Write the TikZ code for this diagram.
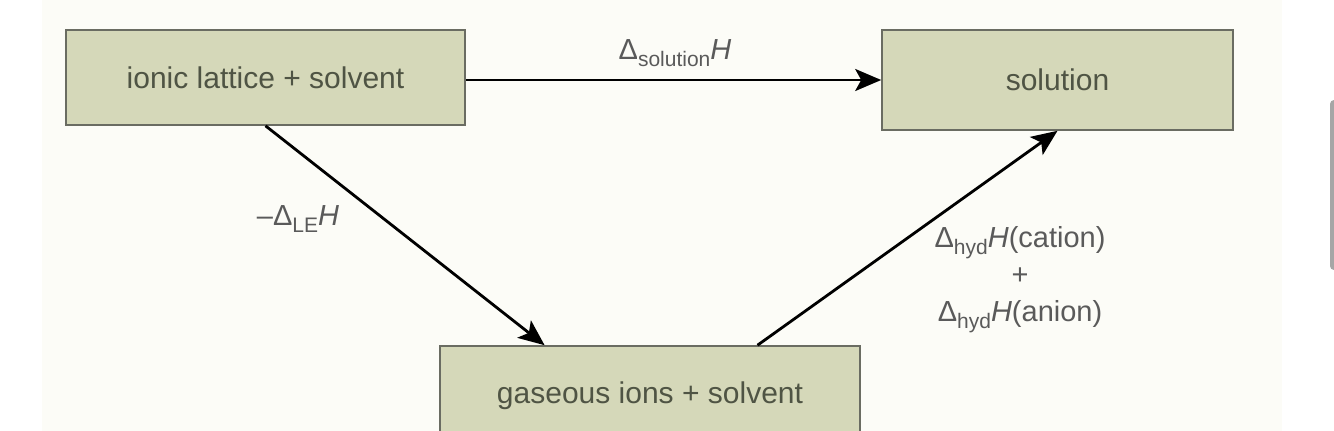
\documentclass[tikz,border=0pt]{standalone}
\usepackage{fontspec}
\setmainfont{Liberation Sans}
\usetikzlibrary{arrows.meta,calc}
\definecolor{boxfill}{HTML}{D5D8B9}
\definecolor{boxline}{HTML}{6A6C62}
\definecolor{boxtext}{HTML}{4F5444}
\definecolor{labtext}{HTML}{5A5A5A}
\definecolor{paper}{HTML}{FCFCF7}
\newcommand{\sbs}[1]{\raisebox{-0.45ex}{\fontsize{21}{21}\selectfont #1}}
\newcommand{\Dlt}{Δ}
\tikzset{
  statebox/.style={draw=boxline, line width=1.6pt, fill=boxfill, text=boxtext,
    font=\fontsize{30}{34}\selectfont, inner sep=0pt},
  conn/.style={line width=2.8pt, -{Stealth[length=26pt,width=22pt,inset=6pt]}},
  lab/.style={text=labtext, font=\fontsize{29}{37}\selectfont, align=center}
}
\begin{document}
\begin{tikzpicture}[x=1pt,y=-1pt]
\useasboundingbox (0,0) rectangle (1334,431);
\clip (0,0) rectangle (1334,431);
\fill[white] (0,0) rectangle (1334,431);
\fill[paper] (42,0) rectangle (1282,431);
\fill[gray!70, rounded corners=4pt] (1330,100) rectangle (1348,270);

\node[statebox, minimum width=399pt, minimum height=95pt] (lat) at (265.5,77.5) {ionic lattice + solvent};
\node[statebox, minimum width=351pt, minimum height=100pt] (sol) at (1057.5,80) {solution};
\node[statebox, minimum width=420pt, minimum height=96pt, text depth=0pt] (gas) at (650,394) {\raisebox{3pt}{gaseous ions + solvent}};

\coordinate (gasin) at ($(gas.north west)!0.25!(gas.north east)$);
\coordinate (gasout) at ($(gas.north west)!0.755!(gas.north east)$);

\draw[conn] (lat.east |- sol.west) -- (sol.west);
\draw[conn] (lat.south) -- (gasin);
\draw[conn] (gasout) -- (sol.south);

\node[lab] (lsol) at (675,53) {\Dlt\sbs{solution}\textit{H}};
\node[lab] (lle) at (298,219) {\textendash\Dlt\sbs{LE}\textit{H}};
\node[lab] (lhyd) at (1020,280) {\Dlt\sbs{hyd}\textit{H}(cation)\\+\\\Dlt\sbs{hyd}\textit{H}(anion)};
\end{tikzpicture}
\end{document}
